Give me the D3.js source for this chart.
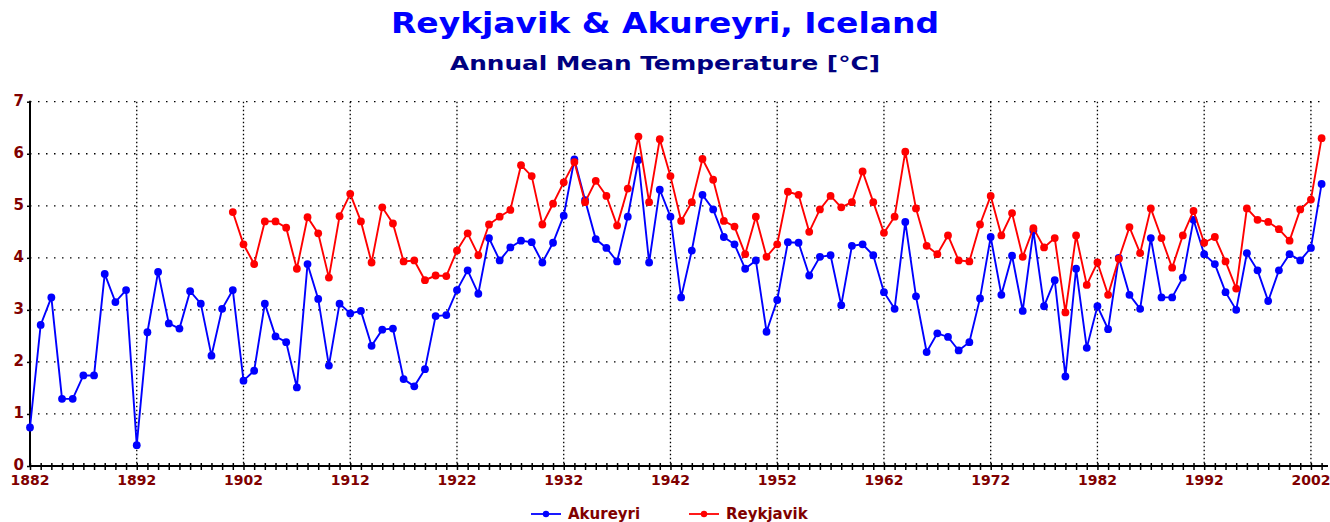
<!DOCTYPE html>
<html><head><meta charset="utf-8">
<script src="https://cdn.jsdelivr.net/npm/d3@7"></script>
<style>body{margin:0;background:#fff;}svg{display:block;}</style>
</head><body>
<svg id="c" width="1330" height="522"></svg>
<script>
const akureyriStart = 1882;
const akureyri = [0.74,2.71,3.24,1.29,1.29,1.74,1.74,3.69,3.15,3.38,
0.40,2.57,3.73,2.74,2.64,3.36,3.12,2.12,3.02,3.38,
1.64,1.83,3.12,2.49,2.38,1.51,3.88,3.21,1.93,3.12,
2.93,2.98,2.31,2.62,2.64,1.67,1.53,1.86,2.88,2.90,
3.38,3.76,3.31,4.38,3.95,4.20,4.33,4.30,3.91,4.29,
4.81,5.89,5.11,4.36,4.19,3.93,4.79,5.88,3.91,5.31,
4.79,3.24,4.14,5.21,4.93,4.40,4.26,3.79,3.95,2.58,
3.19,4.30,4.29,3.66,4.02,4.05,3.09,4.23,4.26,4.05,
3.34,3.02,4.69,3.26,2.19,2.55,2.48,2.22,2.38,3.22,
4.40,3.29,4.04,2.98,4.52,3.07,3.57,1.72,3.79,2.27,
3.07,2.63,4.00,3.29,3.02,4.38,3.24,3.24,3.62,4.73,
4.07,3.88,3.34,3.00,4.09,3.76,3.17,3.76,4.07,3.95,
4.19,5.42];
const reykjavikStart = 1901;
const reykjavik = [4.88,
4.26,3.88,4.70,4.70,4.58,3.79,4.78,4.47,3.62,4.80,
5.23,4.70,3.91,4.97,4.66,3.93,3.95,3.57,3.66,3.65,
4.14,4.47,4.05,4.64,4.79,4.92,5.78,5.57,4.64,5.04,
5.45,5.84,5.07,5.48,5.19,4.62,5.33,6.33,5.07,6.28,
5.57,4.71,5.07,5.90,5.50,4.71,4.60,4.07,4.79,4.02,
4.26,5.27,5.21,4.50,4.93,5.19,4.97,5.07,5.66,5.07,
4.48,4.79,6.04,4.95,4.23,4.07,4.43,3.95,3.93,4.64,
5.19,4.43,4.86,4.02,4.57,4.20,4.38,2.95,4.43,3.48,
3.91,3.29,3.98,4.59,4.09,4.95,4.38,3.81,4.43,4.90,
4.29,4.40,3.93,3.41,4.95,4.73,4.69,4.55,4.33,4.93,
5.12,6.30];
const xTickYears = [1882,1892,1902,1912,1922,1932,1942,1952,1962,1972,1982,1992,2002];
const yTicks = [0,1,2,3,4,5,6,7];
const titleText = "Reykjavik & Akureyri, Iceland";
const subtitleText = "Annual Mean Temperature [°C]";
const seriesNames = ["Akureyri","Reykjavik"];

const aData = akureyri.map((v,i)=>({year:akureyriStart+i,v}));
const rData = reykjavik.map((v,i)=>({year:reykjavikStart+i,v}));

const svg = d3.select("#c");
const L=30, R=1328, T=101.7, B=466;
const x = d3.scaleLinear().domain([1882,2003.6]).range([L,R]);
const y = d3.scaleLinear().domain([0,7]).range([B,T]);
const gridRight = 1326;

// horizontal grid
svg.append("g").selectAll("line").data(yTicks.filter(d=>d>0)).join("line")
  .attr("x1",L).attr("x2",gridRight).attr("y1",d=>y(d)).attr("y2",d=>y(d))
  .attr("stroke","#000").attr("stroke-width",1.3).attr("stroke-dasharray","1.5,6.5");
// vertical grid
svg.append("g").selectAll("line").data(xTickYears.filter(d=>d>1882)).join("line")
  .attr("x1",d=>x(d)).attr("x2",d=>x(d)).attr("y1",T).attr("y2",B)
  .attr("stroke","#000").attr("stroke-width",1.3).attr("stroke-dasharray","1.5,2.5");

// x axis with yearly ticks
const years = d3.range(1882,2004);
const xAxis = d3.axisBottom(x).tickValues(years).tickSize(4).tickFormat("");
const gx = svg.append("g").attr("transform",`translate(0,${B})`).call(xAxis);
gx.select(".domain").remove();
gx.selectAll(".tick line").attr("y1",-3).attr("y2",4).attr("stroke-width",1.5);
svg.append("line").attr("x1",L-1).attr("x2",R).attr("y1",B).attr("y2",B).attr("stroke","#000").attr("stroke-width",2);
svg.append("g").selectAll("text").data(xTickYears).join("text")
  .attr("x",d=>x(d)).attr("y",B+19).attr("text-anchor","middle")
  .attr("font-family","DejaVu Sans, sans-serif").attr("font-weight","bold").attr("font-size",14)
  .attr("fill","#800000").text(d=>d);

// y axis
const yAxis = d3.axisLeft(y).tickValues(yTicks).tickSize(3).tickFormat("");
const gy = svg.append("g").attr("transform",`translate(${L},0)`).call(yAxis);
gy.select(".domain").remove();
gy.selectAll(".tick line").attr("stroke-width",1.5);
svg.append("line").attr("x1",L).attr("x2",L).attr("y1",T-1).attr("y2",B+1).attr("stroke","#000").attr("stroke-width",2);
svg.append("g").selectAll("text").data(yTicks).join("text")
  .attr("x",24).attr("y",d=>y(d)+4).attr("text-anchor","end")
  .attr("font-family","DejaVu Sans, sans-serif").attr("font-weight","bold").attr("font-size",15)
  .attr("fill","#800000").text(d=>d);

// series
const line = d3.line().x(d=>x(d.year)).y(d=>y(d.v));
function drawSeries(data,color){
  svg.append("path").datum(data).attr("d",line).attr("fill","none")
    .attr("stroke",color).attr("stroke-width",1.9);
  svg.append("g").selectAll("circle").data(data).join("circle")
    .attr("cx",d=>x(d.year)).attr("cy",d=>y(d.v)).attr("r",3.9).attr("fill",color);
}
drawSeries(aData,"#0000ff");
drawSeries(rData,"#ff0000");

// titles
svg.append("text").attr("x",665).attr("y",33).attr("text-anchor","middle")
  .attr("font-family","DejaVu Sans, sans-serif").attr("font-weight","bold").attr("font-size",28)
  .attr("fill","#0000ff").attr("textLength",548).attr("lengthAdjust","spacingAndGlyphs").text(titleText);
svg.append("text").attr("x",665).attr("y",70).attr("text-anchor","middle")
  .attr("font-family","DejaVu Sans, sans-serif").attr("font-weight","bold").attr("font-size",19)
  .attr("fill","#000080").attr("textLength",430).attr("lengthAdjust","spacingAndGlyphs").text(subtitleText);

// legend
const leg = [{name:seriesNames[0],color:"#0000ff",x:531},{name:seriesNames[1],color:"#ff0000",x:689}];
const lg = svg.append("g").selectAll("g").data(leg).join("g");
lg.append("line").attr("x1",d=>d.x).attr("x2",d=>d.x+30).attr("y1",514).attr("y2",514)
  .attr("stroke",d=>d.color).attr("stroke-width",1.8);
lg.append("circle").attr("cx",d=>d.x+15).attr("cy",514).attr("r",3.2).attr("fill",d=>d.color);
lg.append("text").attr("x",d=>d.x+37).attr("y",519).attr("font-family","DejaVu Sans, sans-serif")
  .attr("font-weight","bold").attr("font-size",15).attr("fill","#800000").text(d=>d.name);
</script>
</body></html>
